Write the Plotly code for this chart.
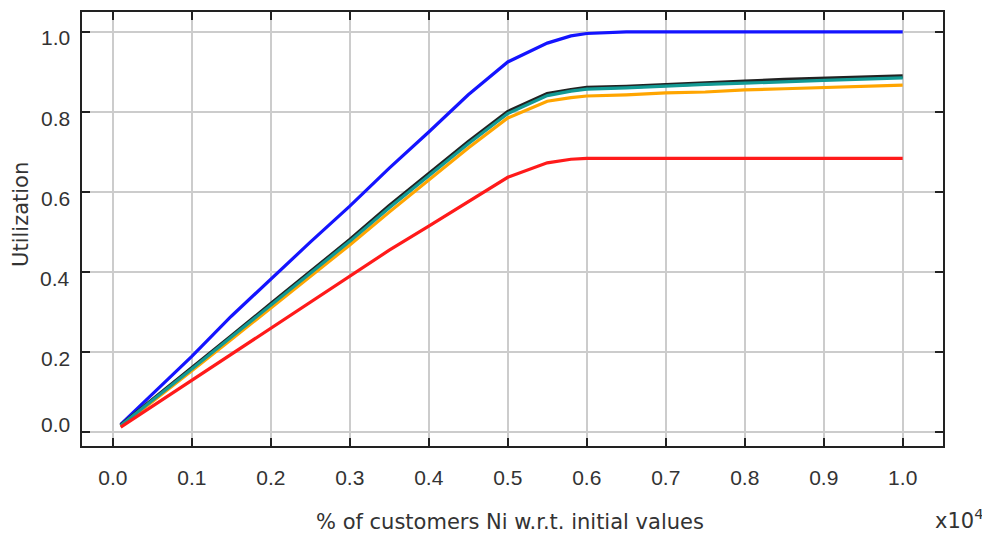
import plotly.graph_objects as go

x_vals = [0.01, 0.05, 0.10, 0.15, 0.20, 0.25, 0.30, 0.35, 0.40, 0.45, 0.50,
          0.55, 0.58, 0.60, 0.65, 0.70, 0.75, 0.80, 0.85, 0.90, 0.95, 1.00]

blue = [0.020, 0.095, 0.190, 0.290, 0.383, 0.475, 0.565, 0.660, 0.750, 0.843, 0.925,
        0.972, 0.990, 0.996, 1.000, 1.000, 1.000, 1.000, 1.000, 1.000, 1.000, 1.000]
black = [0.017, 0.080, 0.160, 0.240, 0.320, 0.400, 0.480, 0.565, 0.645, 0.725, 0.800,
         0.845, 0.855, 0.860, 0.863, 0.868, 0.872, 0.876, 0.880, 0.883, 0.886, 0.889]
teal = [0.017, 0.079, 0.158, 0.238, 0.318, 0.397, 0.477, 0.561, 0.641, 0.721, 0.796,
        0.841, 0.852, 0.857, 0.860, 0.865, 0.869, 0.872, 0.876, 0.879, 0.882, 0.885]
orange = [0.015, 0.076, 0.154, 0.232, 0.310, 0.389, 0.468, 0.550, 0.630, 0.710, 0.785,
          0.827, 0.836, 0.840, 0.843, 0.848, 0.850, 0.855, 0.858, 0.861, 0.866, 0.867]
red = [0.013, 0.065, 0.130, 0.195, 0.259, 0.325, 0.390, 0.455, 0.515, 0.575, 0.637,
       0.673, 0.682, 0.684, 0.684, 0.684, 0.684, 0.684, 0.684, 0.684, 0.684, 0.684]

x_ticks = [0.0, 0.1, 0.2, 0.3, 0.4, 0.5, 0.6, 0.7, 0.8, 0.9, 1.0]
x_labels = ["0.0", "0.1", "0.2", "0.3", "0.4", "0.5", "0.6", "0.7", "0.8", "0.9", "1.0"]
y_ticks = [0.0, 0.2, 0.4, 0.6, 0.8, 1.0]
y_labels = ["0.0", "0.2", "0.4", "0.6", "0.8", "1.0"]

series = [
    ("blue", blue, "#1414ff", 3.2),
    ("black", black, "#222222", 4.2),
    ("orange", orange, "#ffa500", 3.2),
    ("teal", teal, "#139a94", 3.2),
    ("red", red, "#ff1a1a", 3.2),
]

fig = go.Figure()
for name, ys, col, w in series:
    fig.add_trace(go.Scatter(x=x_vals, y=ys, mode="lines", name=name,
                             line=dict(color=col, width=w)))

tick_font = dict(family="Liberation Sans", size=21, color="#333333")
title_font = dict(family="DejaVu Sans, sans-serif", size=21, color="#333333")

axis_common = dict(
    showline=True, linecolor="#222222", linewidth=2, mirror="ticks",
    ticks="inside", ticklen=8, tickwidth=2, tickcolor="#222222",
    showgrid=True, gridcolor="#cccccc", gridwidth=1.5, zeroline=False,
    tickfont=tick_font,
)

fig.update_layout(
    width=982, height=530,
    margin=dict(l=74, r=47, t=2, b=92),
    paper_bgcolor="white", plot_bgcolor="white",
    showlegend=False,
    xaxis=dict(range=[-0.039, 1.051], tickvals=x_ticks, ticktext=x_labels,
               ticklabelstandoff=12, **axis_common),
    yaxis=dict(range=[-0.034, 1.0497], tickvals=y_ticks, ticktext=y_labels,
               showticklabels=False, **axis_common),
)

# y tick labels drawn as annotations on the y scale (the reference offsets them from their ticks)
y_label_shift = [8, -6, -6, -6, -6, -6]
for val, lab, sh in zip(y_ticks, y_labels, y_label_shift):
    fig.add_annotation(text=lab, xref="paper", yref="y", x=0, y=val,
                       xanchor="right", yanchor="middle", xshift=-10, yshift=sh,
                       showarrow=False, font=tick_font)

fig.add_annotation(text="% of customers Ni w.r.t. initial values", xref="paper", yref="paper",
                   x=0.497, y=-0.174, showarrow=False, xanchor="center", yanchor="middle",
                   font=title_font)
fig.add_annotation(text="x10<sup>4</sup>", xref="paper", yref="paper",
                   x=1.019, y=-0.168, showarrow=False, xanchor="center", yanchor="middle",
                   font=title_font)
fig.add_annotation(text="Utilization", xref="paper", yref="paper", textangle=-90,
                   x=-0.07, y=0.534, showarrow=False, xanchor="center", yanchor="middle",
                   font=title_font)

fig.write_html("out.html")
